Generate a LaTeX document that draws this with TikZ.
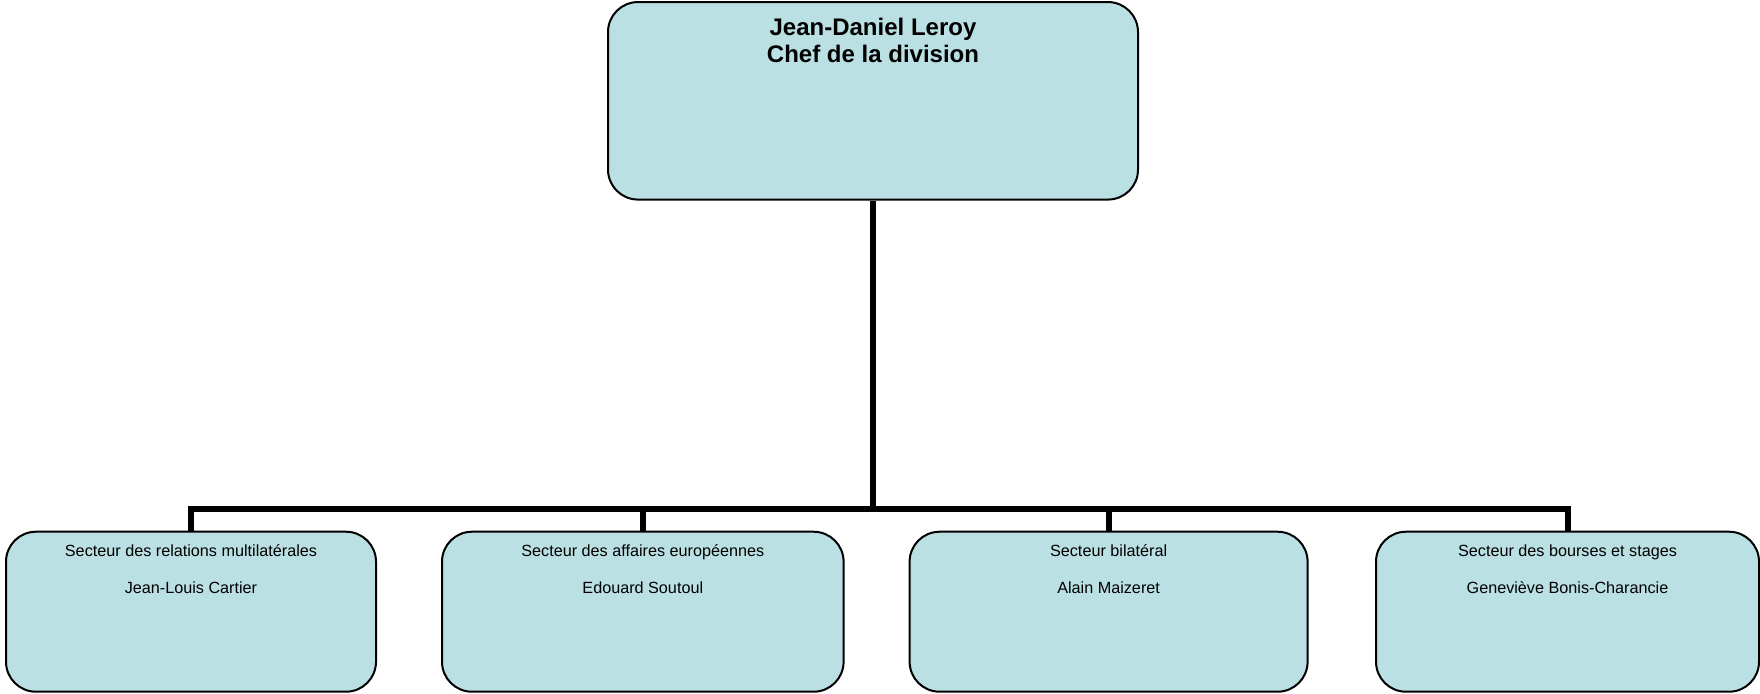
\documentclass[tikz,border=0pt]{standalone}
\usepackage{fontspec}
\setmainfont{Liberation Sans}
\usepackage{xcolor}
\usepackage{tikz}
\usetikzlibrary{positioning}
\definecolor{orgCyan}{HTML}{BBE0E3}
\tikzset{
  chef box/.style={draw=black, fill=orgCyan, line width=1pt,
    rounded corners=15pt, minimum width=265pt, minimum height=98.75pt,
    inner sep=0pt},
  sector box/.style={draw=black, fill=orgCyan, line width=1pt,
    rounded corners=15pt, minimum height=80pt, inner sep=0pt},
  chef text/.style={font=\fontsize{12}{13.35}\selectfont\bfseries,
    align=center, inner sep=0pt},
  sector text/.style={font=\fontsize{8.1}{9.3}\selectfont,
    align=center, inner sep=0pt},
  org line/.style={line width=3pt, draw=black}
}
\begin{document}
\begin{tikzpicture}[node distance=32pt]
  \useasboundingbox (0,0) rectangle (880pt,-346.5pt);
  \node[chef box] (chef) at (436.5pt,-50.4pt) {};
  \node[sector box, minimum width=185pt] (multi) at (95.5pt,-305.85pt) {};
  \node[sector box, minimum width=200.8pt, right=of multi] (europe) {};
  \node[sector box, minimum width=199pt, right=of europe] (bilat) {};
  \node[sector box, minimum width=191.5pt, right=33.2pt of bilat] (bourses) {};
  \coordinate[below=154.2pt of chef.south] (junction);
  \draw[org line] (chef.south) -- (junction);
  \draw[org line] (junction) -| (multi.north);
  \draw[org line] (junction) -| (europe.north);
  \draw[org line] (junction) -| (bilat.north);
  \draw[org line] (junction) -| (bourses.north);
  \node[chef text, below=8.5pt of chef.north] (chefname)
    {Jean-Daniel Leroy\\Chef de la division};
  \node[sector text, below=6.6pt of multi.north] (multiname)
    {Secteur des relations multilatérales\\[9.35pt]Jean-Louis Cartier};
  \node[sector text, below=6.6pt of europe.north] (europename)
    {Secteur des affaires européennes\\[9.35pt]Edouard Soutoul};
  \node[sector text, below=6.6pt of bilat.north] (bilatname)
    {Secteur bilatéral\\[9.35pt]Alain Maizeret};
  \node[sector text, below=6.6pt of bourses.north] (boursesname)
    {Secteur des bourses et stages\\[9.35pt]Geneviève Bonis-Charancie};
\end{tikzpicture}
\end{document}
